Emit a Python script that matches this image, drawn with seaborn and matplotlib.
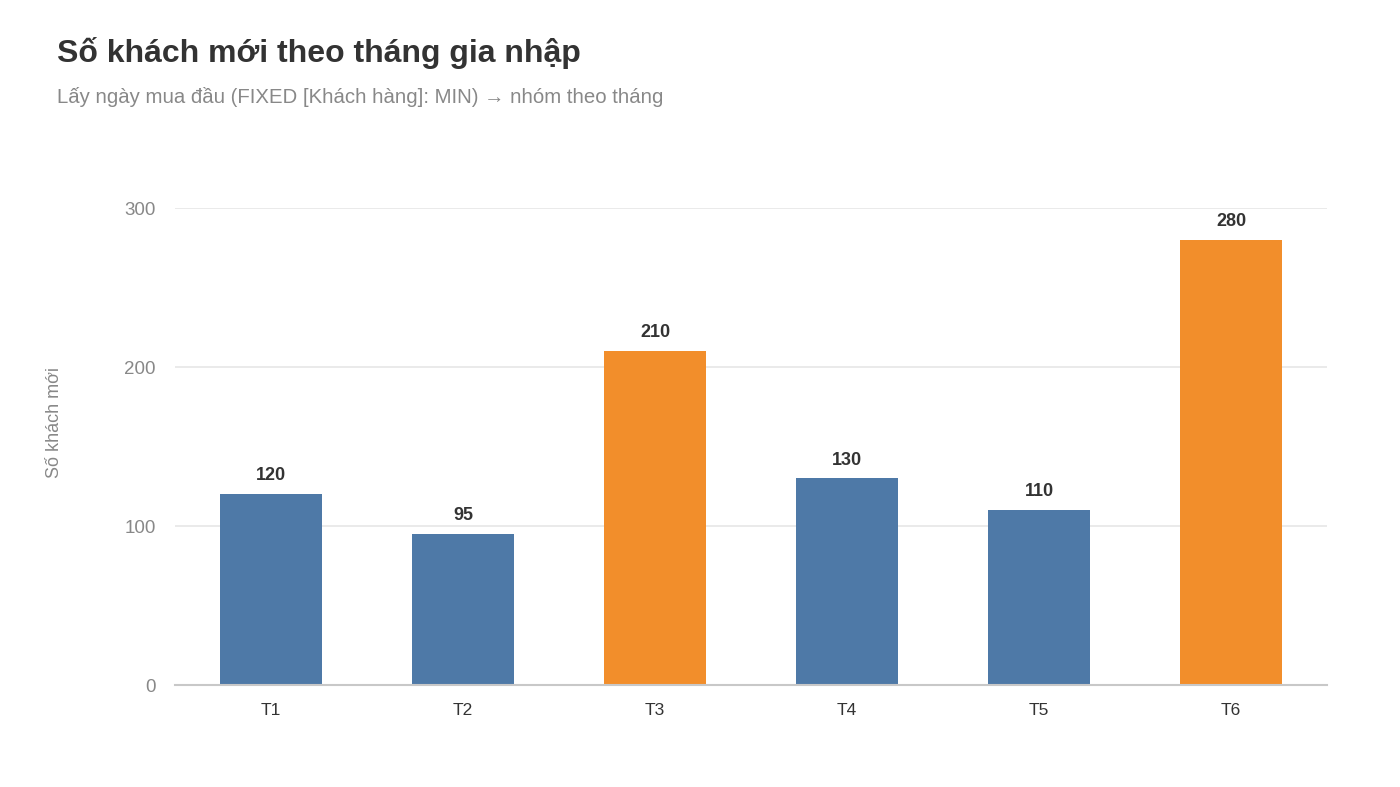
"""Số khách mới theo tháng gia nhập - bar chart recreation."""
import matplotlib
matplotlib.use("Agg")
import matplotlib.pyplot as plt
import seaborn as sns
import pandas as pd

# data
months = ["T1", "T2", "T3", "T4", "T5", "T6"]
new_customers = [120, 95, 210, 130, 110, 280]
highlight = ["normal", "normal", "peak", "normal", "normal", "peak"]

BLUE = "#4E79A7"
ORANGE = "#F28E2B"

sns.set_theme(style="white")
plt.rcParams["font.family"] = ["Liberation Sans", "DejaVu Sans"]

df = pd.DataFrame({"month": months, "value": new_customers, "group": highlight})

fig = plt.figure(figsize=(14, 7.87), dpi=100)
ax = fig.add_axes([0.125, 0.1296, 0.823, 0.6061])

sns.barplot(data=df, x="month", y="value", hue="group",
            palette={"normal": BLUE, "peak": ORANGE}, saturation=1,
            width=0.53, dodge=False, legend=False, linewidth=0,
            ax=ax, zorder=3)

ax.set_xlim(-0.5, len(months) - 0.5)
ax.set_ylim(0, 300)
ax.set_yticks([0, 100, 200, 300])
ax.grid(axis="y", color="#E6E6E6", linewidth=1.2, zorder=0)
ax.set_axisbelow(True)
for s in ["top", "right", "left"]:
    ax.spines[s].set_visible(False)
ax.spines["bottom"].set_color("#C8C8C8")
ax.spines["bottom"].set_linewidth(1.5)
ax.spines["bottom"].set_zorder(4)

ax.tick_params(axis="y", length=0, pad=14, labelsize=13.5, labelcolor="#888888")
ax.tick_params(axis="x", length=0, pad=13, labelsize=12.5, labelcolor="#333333")
ax.set_xlabel("")
ax.set_ylabel("Số khách mới", fontsize=13, color="#888888", labelpad=0)
ax.yaxis.set_label_coords(-0.097, 0.55)

for i, v in enumerate(new_customers):
    ax.annotate(str(v), (i, v), xytext=(0, 7), textcoords="offset points",
                ha="center", va="bottom", fontsize=13, fontweight="bold",
                color="#333333")

fig.text(0.041, 0.933, "Số khách mới theo tháng gia nhập", fontsize=23,
         fontweight="bold", color="#333333", va="center", ha="left")
fig.text(0.041, 0.877, "Lấy ngày mua đầu (FIXED [Khách hàng]: MIN) → nhóm theo tháng",
         fontsize=14.7, color="#888888", va="center", ha="left")

fig.savefig("out.png", dpi=100, facecolor="white")
